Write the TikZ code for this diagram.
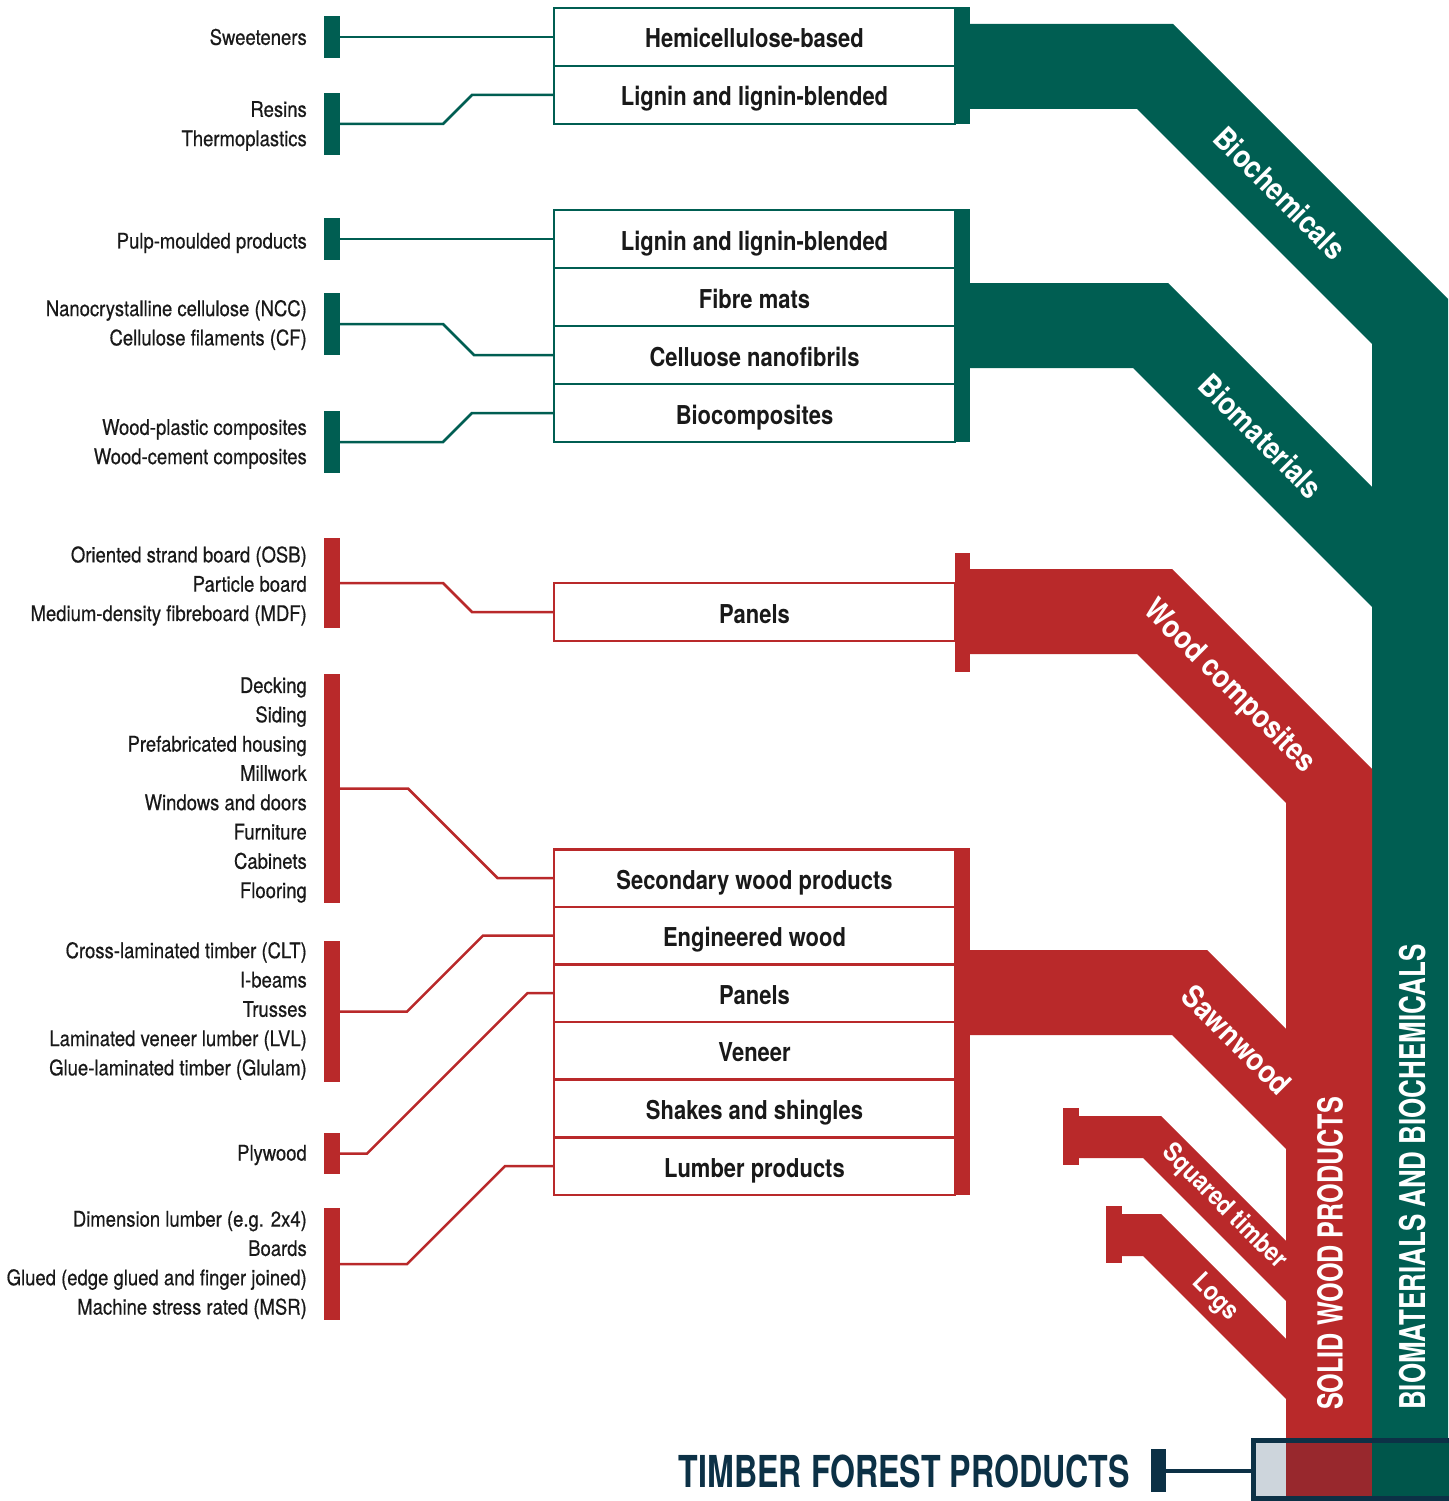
\documentclass[tikz,border=0pt]{standalone}
\usepackage{fontspec}
\setmainfont{TeX Gyre Heros}[FakeStretch=0.86]
\newfontfamily\medfont{TeX Gyre Heros}[FakeStretch=0.86,FakeBold=0.5]
\newfontfamily\boxfont{TeX Gyre Heros}[FakeStretch=0.845]
\newfontfamily\cndfont{TeX Gyre Heros}[FakeStretch=0.73]
\definecolor{bioGreen}{RGB}{0,94,82}
\definecolor{woodRed}{RGB}{185,41,42}
\definecolor{darkRed}{RGB}{152,40,45}
\definecolor{navy}{RGB}{12,49,70}
\definecolor{paleGrey}{RGB}{205,213,220}
\definecolor{ink}{RGB}{25,25,25}
\begin{document}
\begin{tikzpicture}[x=1pt,y=-1pt,
	gbox/.style={draw=bioGreen,line width=2.5pt,minimum width=401pt,minimum height=58pt,inner sep=0pt,text height=22pt,text depth=0pt,text=ink,font=\boxfont\bfseries\fontsize{26}{28}\selectfont},
	rbox/.style={gbox,draw=woodRed},
	gbar/.style={fill=bioGreen,minimum width=16pt,inner sep=0pt,outer sep=0pt},
	rbar/.style={gbar,fill=woodRed},
	gline/.style={draw=bioGreen,line width=2.5pt},
	rline/.style={gline,draw=woodRed},
	lbl/.style={anchor=east,align=right,inner sep=0pt,text=ink,font=\medfont\fontsize{21.5}{29.3}\selectfont},
	band/.style={white,rotate=-45,inner sep=0pt,font=\bfseries\fontsize{31}{32}\selectfont},
	trunk/.style={white,rotate=90,anchor=west,inner sep=0pt,font=\cndfont\bfseries\fontsize{34.5}{36}\selectfont}]
	\useasboundingbox (0,0) rectangle (1448,1501);
	\node[gbox] (hemi) at (754.5,37) {Hemicellulose-based};
	\node[gbox] (lig1) at (754.5,95) {Lignin and lignin-blended};
	\node[gbox] (lig2) at (754.5,239) {Lignin and lignin-blended};
	\node[gbox] (fibre) at (754.5,297) {Fibre mats};
	\node[gbox] (cnf) at (754.5,355) {Celluose nanofibrils};
	\node[gbox] (bioc) at (754.5,413) {Biocomposites};
	\node[rbox] (pan1) at (754.5,612) {Panels};
	\node[rbox,minimum height=57.5pt] (sec) at (754.5,878) {Secondary wood products};
	\node[rbox,minimum height=57.5pt] (eng) at (754.5,935.5) {Engineered wood};
	\node[rbox,minimum height=57.5pt] (pan2) at (754.5,993) {Panels};
	\node[rbox,minimum height=57.5pt] (ven) at (754.5,1050.5) {Veneer};
	\node[rbox,minimum height=57.5pt] (shk) at (754.5,1108) {Shakes and shingles};
	\node[rbox,minimum height=57.5pt] (lum) at (754.5,1166) {Lumber products};
	\fill[bioGreen] (970,24) -- (1173,24) -- (1448,299) -- (1448,1440) -- (1372,1440) -- (1372,344) -- (1137,109) -- (970,109) -- cycle;
	\fill[bioGreen] (970,283) -- (1168,283) -- (1372,487) -- (1372,607) -- (1133,368) -- (970,368) -- cycle;
	\fill[woodRed] (970,569) -- (1172,569) -- (1372,769) -- (1372,1440) -- (1286,1440) -- (1286,803) -- (1137,654) -- (970,654) -- cycle;
	\fill[woodRed] (970,950) -- (1207,950) -- (1286,1029) -- (1286,1149) -- (1172,1035) -- (970,1035) -- cycle;
	\fill[woodRed] (1079,1116) -- (1161,1116) -- (1286,1241) -- (1286,1301) -- (1143,1158) -- (1079,1158) -- cycle;
	\fill[woodRed] (1122,1214) -- (1161,1214) -- (1286,1339) -- (1286,1399) -- (1143,1256) -- (1122,1256) -- cycle;
	\fill[bioGreen] (955,7) rectangle (970,124);
	\fill[bioGreen] (955,209) rectangle (970,442);
	\fill[woodRed] (955,553) rectangle (970,672);
	\fill[woodRed] (955,848) rectangle (970,1195);
	\fill[woodRed] (1063,1108) rectangle (1079,1165);
	\fill[woodRed] (1106,1206) rectangle (1122,1263);
	\node[gbar,minimum height=42pt] (sSweet) at (332,37) {};
	\node[gbar,minimum height=62pt] (sResin) at (332,124) {};
	\node[gbar,minimum height=42pt] (sPulp) at (332,239) {};
	\node[gbar,minimum height=62pt] (sNano) at (332,324) {};
	\node[gbar,minimum height=62pt] (sWpc) at (332,442) {};
	\node[rbar,minimum height=90pt] (sOsb) at (332,583) {};
	\node[rbar,minimum height=229pt] (sDeck) at (332,788.5) {};
	\node[rbar,minimum height=141pt] (sClt) at (332,1011.5) {};
	\node[rbar,minimum height=41pt] (sPly) at (332,1153.5) {};
	\node[rbar,minimum height=112pt] (sDim) at (332,1264) {};
	\draw[gline] (sSweet.east) -- (hemi.west);
	\draw[gline] (sResin.east) -- ++(103,0) -- ++(29,-29) -- (lig1.west);
	\draw[gline] (sPulp.east) -- (lig2.west);
	\draw[gline] (sNano.east) -- ++(103,0) -- ++(31,31) -- (cnf.west);
	\draw[gline] (sWpc.east) -- ++(103,0) -- ++(29,-29) -- (bioc.west);
	\draw[rline] (sOsb.east) -- ++(103,0) -- ++(29,29) -- (pan1.west);
	\draw[rline] (sDeck.east) -- ++(68,0) -- ++(89.5,89.5) -- (sec.west);
	\draw[rline] (sClt.east) -- ++(67,0) -- ++(76,-76) -- (eng.west);
	\draw[rline] (sPly.east) -- ++(27,0) -- ++(160.5,-160.5) -- (pan2.west);
	\draw[rline] (sDim.east) -- ++(67,0) -- ++(98,-98) -- (lum.west);
	\node[lbl] (tSweet) at (307,37) {Sweeteners};
	\node[lbl] (tResin) at (307,126) {Resins\\Thermoplastics};
	\node[lbl] (tPulp) at (307,243) {Pulp-moulded products};
	\node[lbl] (tNano) at (307,325) {Nanocrystalline cellulose (NCC)\\Cellulose filaments (CF)};
	\node[lbl] (tWpc) at (307,444) {Wood-plastic composites\\Wood-cement composites};
	\node[lbl] (tOsb) at (307,586) {Oriented strand board (OSB)\\Particle board\\Medium-density fibreboard (MDF)};
	\node[lbl] (tDeck) at (307,790) {Decking\\Siding\\Prefabricated housing\\Millwork\\Windows and doors\\Furniture\\Cabinets\\Flooring};
	\node[lbl] (tClt) at (307,1011) {Cross-laminated timber (CLT)\\I-beams\\Trusses\\Laminated veneer lumber (LVL)\\Glue-laminated timber (Glulam)};
	\node[lbl] (tPly) at (307,1155) {Plywood};
	\node[lbl] (tDim) at (307,1265) {Dimension lumber (e.g. 2x4)\\Boards\\Glued (edge glued and finger joined)\\Machine stress rated (MSR)};
	\node[band] (lBiochem) at (1280,193) {Biochemicals};
	\node[band] (lBiomat) at (1261,436) {Biomaterials};
	\node[band] (lComp) at (1229,687) {Wood composites};
	\node[band] (lSawn) at (1237,1040) {Sawnwood};
	\node[band,font=\bfseries\fontsize{26}{27}\selectfont] (lSquare) at (1224,1207) {Squared timber};
	\node[band,font=\bfseries\fontsize{26}{27}\selectfont] (lLogs) at (1215,1298) {Logs};
	\node[trunk] (lSolid) at (1330,1410) {SOLID WOOD PRODUCTS};
	\node[trunk,font=\cndfont\bfseries\fontsize{35.5}{37}\selectfont] (lBioTrunk) at (1413,1410) {BIOMATERIALS AND BIOCHEMICALS};
	\fill[paleGrey] (1256,1443) rectangle (1286,1496);
	\fill[darkRed] (1286,1443) rectangle (1372,1496);
	\fill[bioGreen!92!black] (1372,1443) rectangle (1460,1496);
	\node[draw=navy,line width=5pt,minimum width=206.5pt,minimum height=58pt,inner sep=0pt,outer sep=0pt] (tfpBox) at (1356.75,1469.5) {};
	\node[fill=navy,minimum width=15pt,minimum height=43pt,inner sep=0pt,outer sep=0pt] (tfpBar) at (1158.5,1470.5) {};
	\draw[navy,line width=4pt] (tfpBar.east) -- (tfpBar.east -| tfpBox.west);
	\node[anchor=east,inner sep=0pt,text=navy,font=\cndfont\bfseries\fontsize{44}{46}\selectfont] (tfp) at (1130,1471) {TIMBER FOREST PRODUCTS};
\end{tikzpicture}
\end{document}
